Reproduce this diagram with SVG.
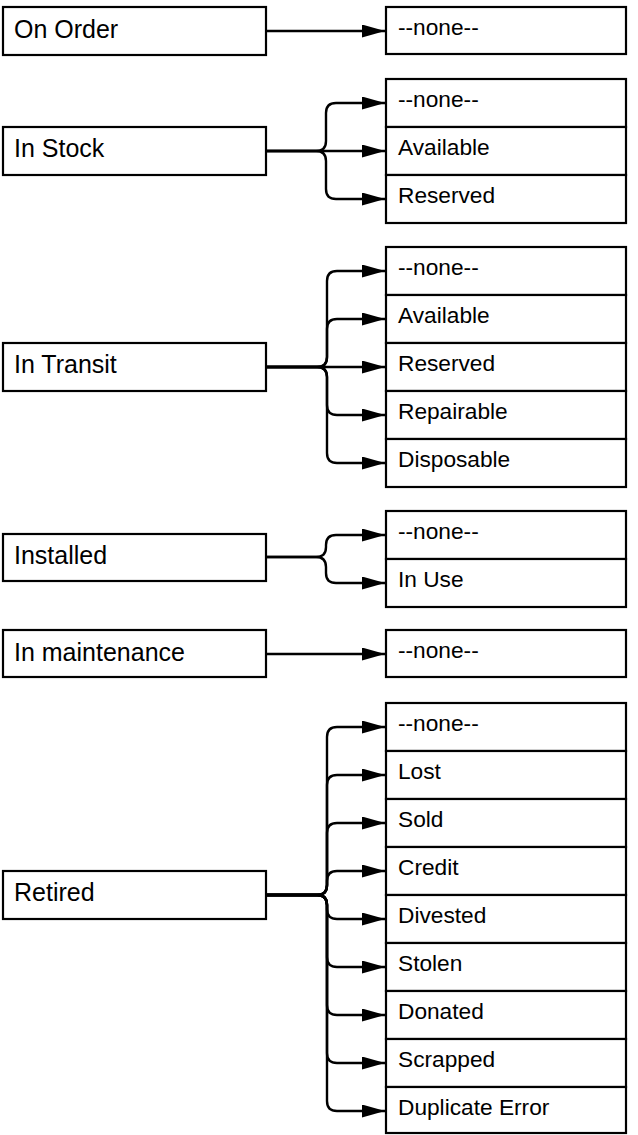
<svg xmlns="http://www.w3.org/2000/svg" width="638" height="1135" viewBox="0 0 638 1135">
<style>
.box{fill:#fff;stroke:#000;stroke-width:2.2}
.src{font-family:"Liberation Sans",Arial,sans-serif;font-size:25px;fill:#000}
.tgt{font-family:"Liberation Sans",Arial,sans-serif;font-size:22.7px;fill:#000}
.c{fill:none;stroke:#000;stroke-width:2.4;marker-end:url(#ah)}
</style>
<defs>
<marker id="ah" markerUnits="userSpaceOnUse" markerWidth="24" markerHeight="14" refX="23" refY="6.5" orient="auto">
<path d="M0,0 L23,6.5 L0,13 z" fill="#000"/>
</marker>
</defs>
<rect width="638" height="1135" fill="#fff"/>

<g id="connectors">
<path class="c" d="M266,31 H385"/>
<path class="c" d="M266,151 H316 Q326,151 326,141 V113 Q326,103 336,103 H385"/>
<path class="c" d="M266,151 H385"/>
<path class="c" d="M266,151 H316 Q326,151 326,161 V189 Q326,199 336,199 H385"/>
<path class="c" d="M266,367 H317 Q327,367 327,357 V281 Q327,271 337,271 H385"/>
<path class="c" d="M266,367 H317 Q327,367 327,357 V329 Q327,319 337,319 H385"/>
<path class="c" d="M266,367 H385"/>
<path class="c" d="M266,367 H317 Q327,367 327,377 V405 Q327,415 337,415 H385"/>
<path class="c" d="M266,367 H317 Q327,367 327,377 V453 Q327,463 337,463 H385"/>
<path class="c" d="M266,557 H316 Q326,557 326,547 V545 Q326,535 336,535 H385"/>
<path class="c" d="M266,557 H316 Q326,557 326,567 V573 Q326,583 336,583 H385"/>
<path class="c" d="M266,654 H385"/>
<path class="c" d="M266,895 H317 Q327,895 327,885 V737 Q327,727 337,727 H385"/>
<path class="c" d="M266,895 H317 Q327,895 327,885 V785 Q327,775 337,775 H385"/>
<path class="c" d="M266,895 H317 Q327,895 327,885 V833 Q327,823 337,823 H385"/>
<path class="c" d="M266,895 H317 Q327,895 327,885 V881 Q327,871 337,871 H385"/>
<path class="c" d="M266,895 H317 Q327,895 327,905 V909 Q327,919 337,919 H385"/>
<path class="c" d="M266,895 H317 Q327,895 327,905 V957 Q327,967 337,967 H385"/>
<path class="c" d="M266,895 H317 Q327,895 327,905 V1005 Q327,1015 337,1015 H385"/>
<path class="c" d="M266,895 H317 Q327,895 327,905 V1053 Q327,1063 337,1063 H385"/>
<path class="c" d="M266,895 H317 Q327,895 327,905 V1101 Q327,1111 337,1111 H385"/>
</g>

<g id="on-order"><rect class="box" x="3" y="7" width="263" height="48"/><text class="src" x="14" y="38">On Order</text></g>
<g id="on-order-list"><rect class="box" x="386" y="7" width="240" height="47"/><text class="tgt" x="398" y="35">--none--</text></g>

<g id="in-stock"><rect class="box" x="3" y="127" width="263" height="48"/><text class="src" x="14" y="157">In Stock</text></g>
<g id="in-stock-list">
<rect class="box" x="386" y="79" width="240" height="48"/><text class="tgt" x="398" y="107">--none--</text>
<rect class="box" x="386" y="127" width="240" height="48"/><text class="tgt" x="398" y="155">Available</text>
<rect class="box" x="386" y="175" width="240" height="48"/><text class="tgt" x="398" y="203">Reserved</text>
</g>

<g id="in-transit"><rect class="box" x="3" y="343" width="263" height="48"/><text class="src" x="14" y="373">In Transit</text></g>
<g id="in-transit-list">
<rect class="box" x="386" y="247" width="240" height="48"/><text class="tgt" x="398" y="275">--none--</text>
<rect class="box" x="386" y="295" width="240" height="48"/><text class="tgt" x="398" y="323">Available</text>
<rect class="box" x="386" y="343" width="240" height="48"/><text class="tgt" x="398" y="371">Reserved</text>
<rect class="box" x="386" y="391" width="240" height="48"/><text class="tgt" x="398" y="419">Repairable</text>
<rect class="box" x="386" y="439" width="240" height="48"/><text class="tgt" x="398" y="467">Disposable</text>
</g>

<g id="installed"><rect class="box" x="3" y="534" width="263" height="47"/><text class="src" x="14" y="564">Installed</text></g>
<g id="installed-list">
<rect class="box" x="386" y="511" width="240" height="48"/><text class="tgt" x="398" y="539">--none--</text>
<rect class="box" x="386" y="559" width="240" height="48"/><text class="tgt" x="398" y="587">In Use</text>
</g>

<g id="in-maintenance"><rect class="box" x="3" y="630" width="263" height="47"/><text class="src" x="14" y="661">In maintenance</text></g>
<g id="in-maintenance-list"><rect class="box" x="386" y="630" width="240" height="47"/><text class="tgt" x="398" y="658">--none--</text></g>

<g id="retired"><rect class="box" x="3" y="871" width="263" height="48"/><text class="src" x="14" y="901">Retired</text></g>
<g id="retired-list">
<rect class="box" x="386" y="703" width="240" height="48"/><text class="tgt" x="398" y="731">--none--</text>
<rect class="box" x="386" y="751" width="240" height="48"/><text class="tgt" x="398" y="779">Lost</text>
<rect class="box" x="386" y="799" width="240" height="48"/><text class="tgt" x="398" y="827">Sold</text>
<rect class="box" x="386" y="847" width="240" height="48"/><text class="tgt" x="398" y="875">Credit</text>
<rect class="box" x="386" y="895" width="240" height="48"/><text class="tgt" x="398" y="923">Divested</text>
<rect class="box" x="386" y="943" width="240" height="48"/><text class="tgt" x="398" y="971">Stolen</text>
<rect class="box" x="386" y="991" width="240" height="48"/><text class="tgt" x="398" y="1019">Donated</text>
<rect class="box" x="386" y="1039" width="240" height="48"/><text class="tgt" x="398" y="1067">Scrapped</text>
<rect class="box" x="386" y="1087" width="240" height="46"/><text class="tgt" x="398" y="1115">Duplicate Error</text>
</g>
</svg>
